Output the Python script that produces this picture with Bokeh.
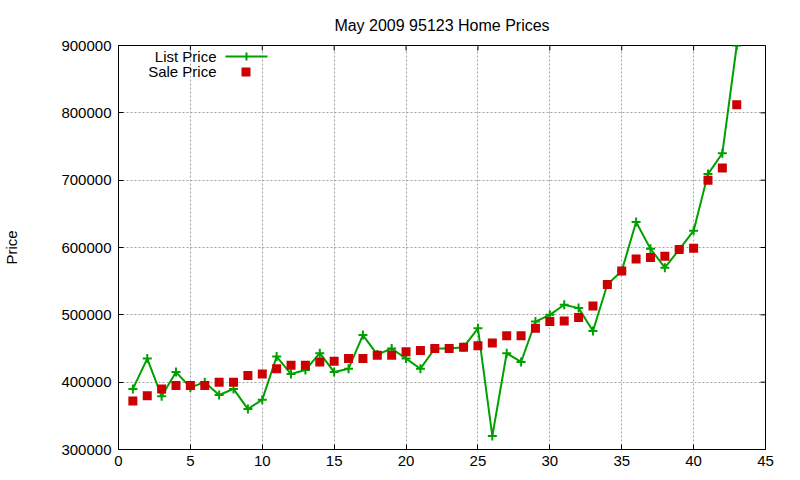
from bokeh.plotting import figure
from bokeh.models import (Range1d, FixedTicker, NumeralTickFormatter, BoxAnnotation, Label)
from bokeh.embed import file_html
from bokeh.resources import INLINE

# Home listings, sorted by price
house = list(range(1, 44))
list_price = [390000, 435000, 379000, 415000, 392000, 400000, 381000, 390000, 360000, 374000,
              438000, 412000, 418000, 443000, 415000, 420000, 470000, 441000, 450000, 435000,
              420000, 450000, 450000, 452000, 480000, 320000, 443000, 430000, 490000, 500000,
              515000, 510000, 476000, 545000, 565000, 638000, 598000, 570000, 597000, 625000,
              709000, 740000, 900000]
sale_price = [372000, 380000, 390000, 395000, 395000, 395000, 400000, 400000, 410000, 412000,
              420000, 425000, 425000, 430000, 431000, 435000, 435000, 440000, 440000, 445000,
              447000, 450000, 450000, 452000, 454000, 458000, 469000, 469000, 480000, 490000,
              491000, 496000, 513000, 545000, 565000, 583000, 585000, 587000, 597000, 599000,
              700000, 718000, 812000]
x_ticks = [0, 5, 10, 15, 20, 25, 30, 35, 40, 45]
y_ticks = [300000, 400000, 500000, 600000, 700000, 800000, 900000]

GREEN = "#00a000"
RED = "#cc0000"
FONT = "Liberation Sans"

W, H = 800, 480
LEFT, RIGHT, TOP, BOTTOM = 118, 35, 45, 31
FRAME_W, FRAME_H = W - LEFT - RIGHT, H - TOP - BOTTOM
TICK = 5

x0, x1 = x_ticks[0], x_ticks[-1]
y0, y1 = y_ticks[0], y_ticks[-1]

p = figure(width=W, height=H, output_backend="svg", toolbar_location=None,
           x_range=Range1d(x0, x1), y_range=Range1d(y0, y1),
           min_border_left=LEFT, min_border_right=RIGHT,
           min_border_top=TOP, min_border_bottom=BOTTOM,
           title="May 2009 95123 Home Prices")
p.title.align = "center"
p.title.text_font = FONT
p.title.text_font_size = "16px"
p.title.text_font_style = "normal"
p.title.text_color = "black"
p.title.standoff = 24

p.outline_line_color = "black"
p.outline_line_width = 1

for ax in (p.xaxis[0], p.yaxis[0]):
    ax.major_label_text_font = FONT
    ax.major_label_text_font_size = "15px"
    ax.major_label_text_color = "black"
    ax.major_tick_in = TICK
    ax.major_tick_out = 0
    ax.minor_tick_line_color = None
    ax.axis_line_color = "black"
    ax.major_tick_line_color = "black"

p.xaxis.ticker = FixedTicker(ticks=x_ticks)
p.yaxis.ticker = FixedTicker(ticks=y_ticks)
p.yaxis.formatter = NumeralTickFormatter(format="0")
p.xaxis.major_label_standoff = 6
p.yaxis.major_label_standoff = 7
p.yaxis.axis_label = "Price"
p.yaxis.axis_label_text_font = FONT
p.yaxis.axis_label_text_font_size = "15px"
p.yaxis.axis_label_text_font_style = "normal"
p.yaxis.axis_label_text_color = "black"
p.yaxis.axis_label_standoff = 38

# mirrored tick marks along the top and right edges
dy = TICK * (y1 - y0) / FRAME_H
dx = TICK * (x1 - x0) / FRAME_W
p.segment(x0=x_ticks, y0=[y1] * len(x_ticks), x1=x_ticks, y1=[y1 - dy] * len(x_ticks),
          line_color="black", line_width=1)
p.segment(x0=[x1] * len(y_ticks), y0=y_ticks, x1=[x1 - dx] * len(y_ticks), y1=y_ticks,
          line_color="black", line_width=1)

p.xgrid.ticker = FixedTicker(ticks=x_ticks)
p.ygrid.ticker = FixedTicker(ticks=y_ticks)
p.grid.grid_line_color = "#a0a0a0"
p.grid.grid_line_dash = "2 2"
p.grid.grid_line_width = 1

p.line(house, list_price, line_color=GREEN, line_width=2)
p.scatter(house, list_price, marker="cross", size=9, line_color=GREEN, line_width=2)
p.scatter(house, sale_price, marker="square", size=9, fill_color=RED, line_color=None)


# key in the upper left corner: text followed by its sample
# (annotation positions are in pixels from the frame's lower-left corner)
def fy(top_px):
    return FRAME_H - (top_px - TOP)


def box(left, right, top, bottom, color):
    return BoxAnnotation(left=left - LEFT, right=right - LEFT, top=fy(top), bottom=fy(bottom),
                         left_units="screen", right_units="screen",
                         top_units="screen", bottom_units="screen",
                         fill_color=color, fill_alpha=1, line_color=None)


for text, ypx in (("List Price", 56), ("Sale Price", 71)):
    p.add_layout(Label(x=216 - LEFT, y=fy(ypx), x_units="screen", y_units="screen", text=text,
                       text_align="right", text_baseline="middle", text_font=FONT,
                       text_font_size="15px", text_color="black"))
p.add_layout(box(225, 267, 55, 57, GREEN))
p.add_layout(box(245, 247, 52, 60, GREEN))
p.add_layout(box(241, 250, 67, 76, RED))

open("out.html", "w").write(file_html(p, INLINE))
